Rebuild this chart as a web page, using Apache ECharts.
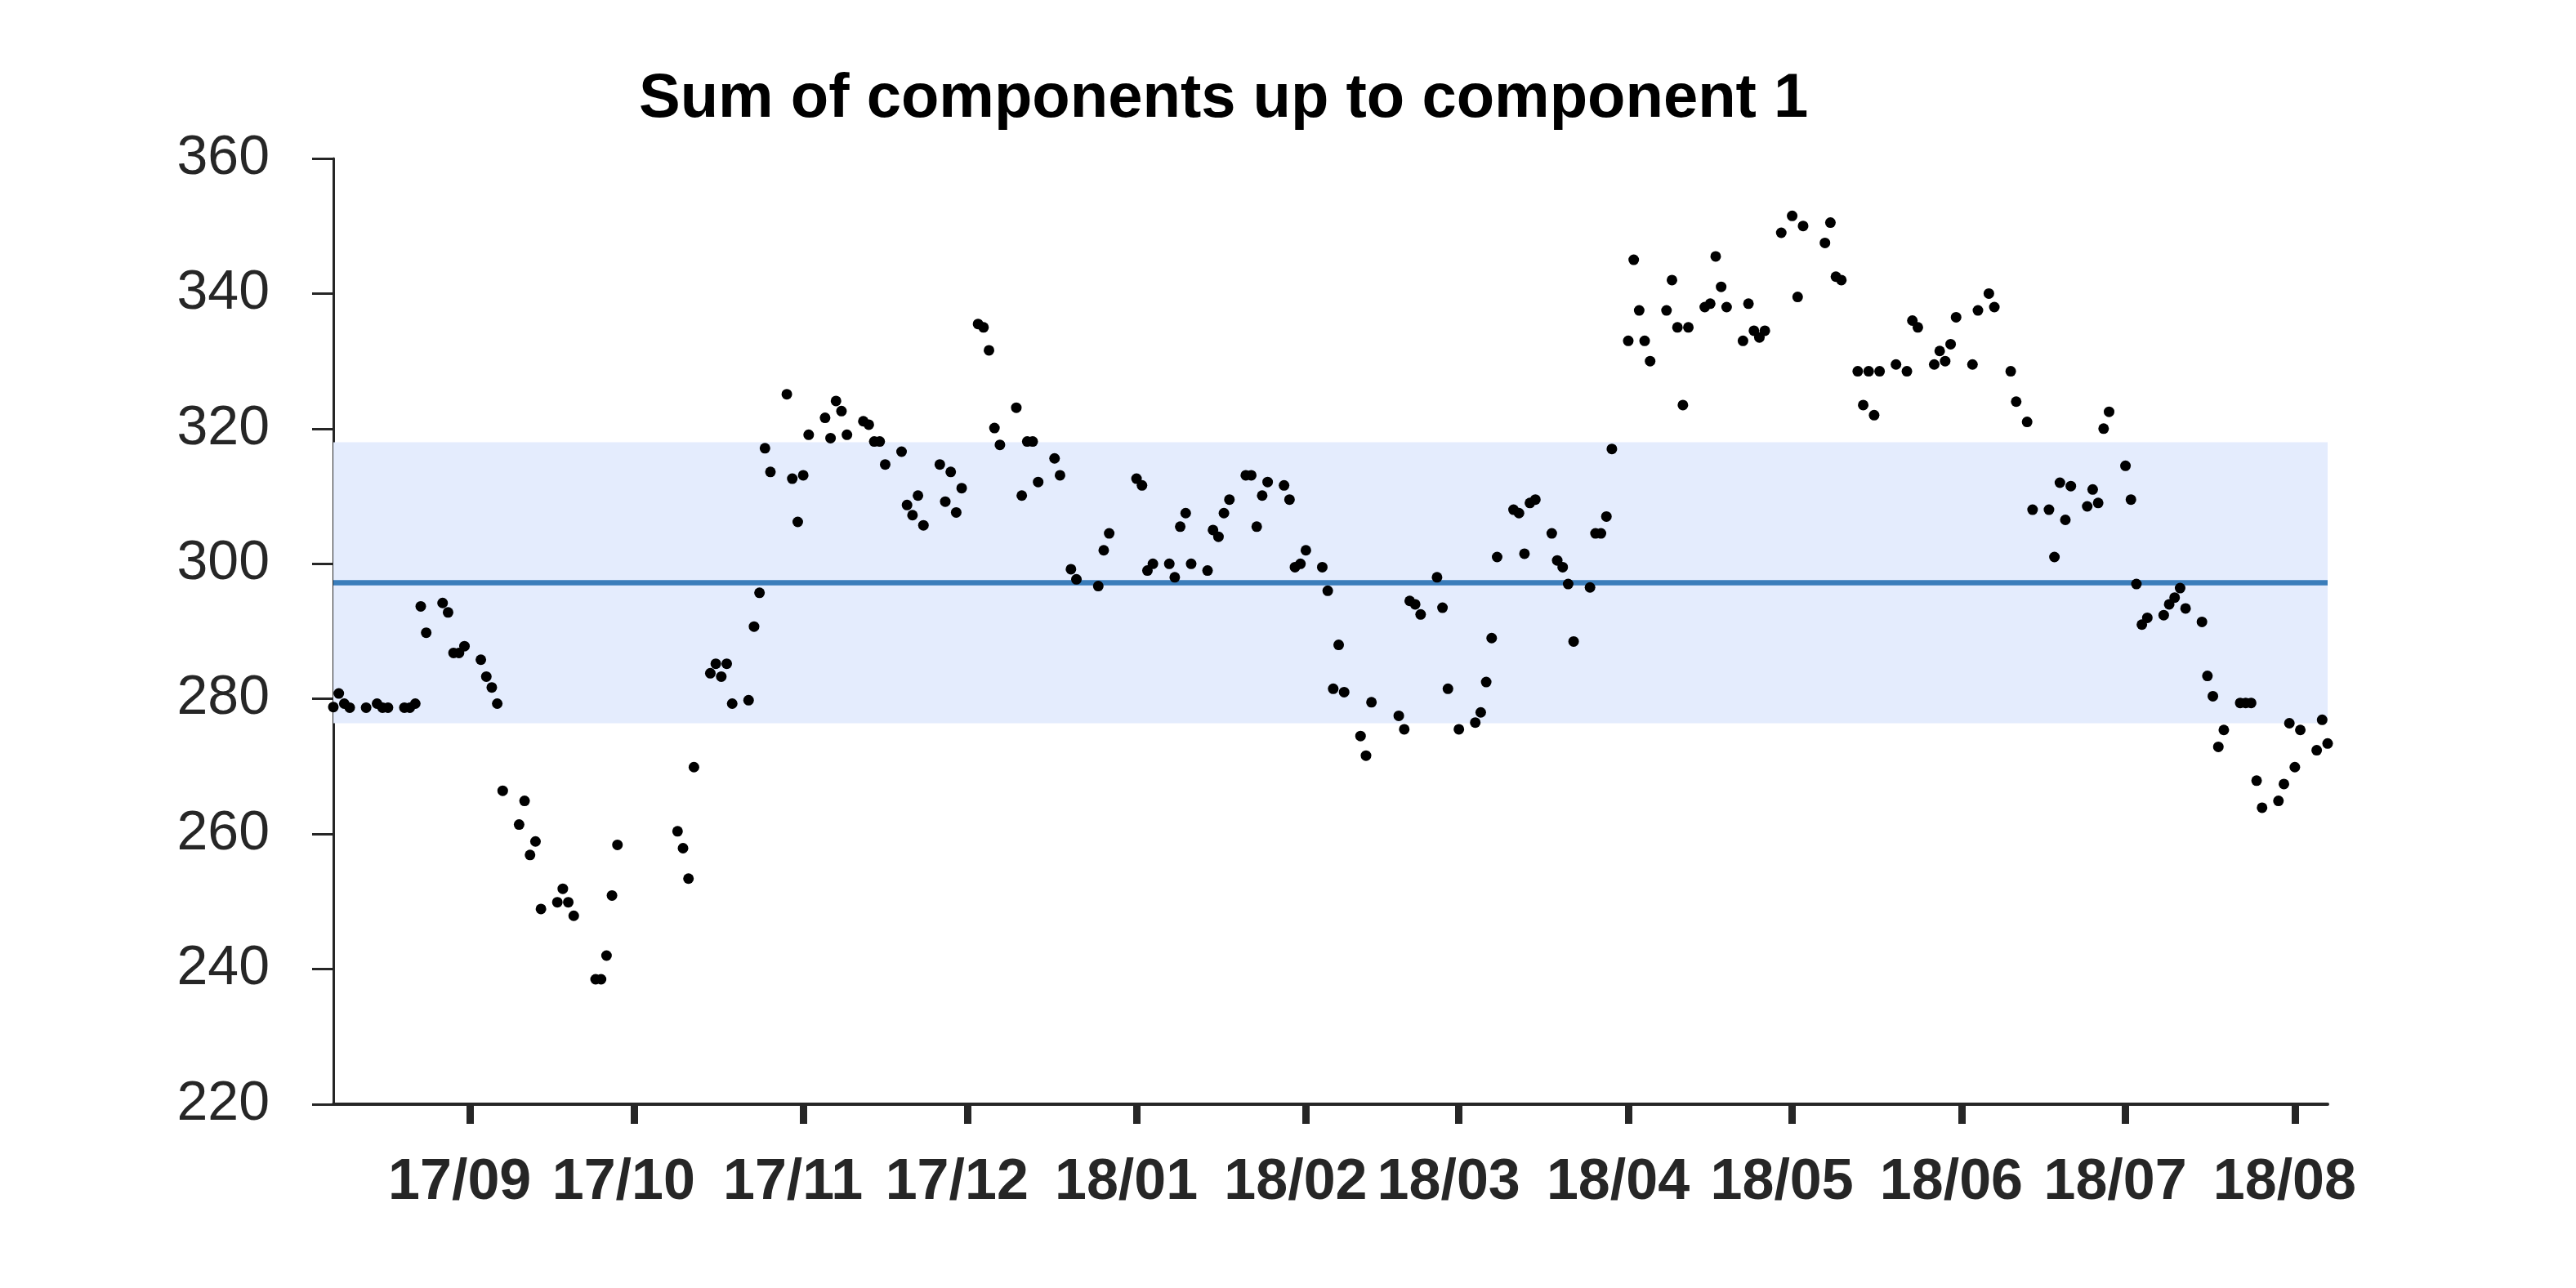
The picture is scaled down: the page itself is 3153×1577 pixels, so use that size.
<!DOCTYPE html>
<html>
<head>
<meta charset="utf-8">
<script src="https://cdn.jsdelivr.net/npm/echarts@6/dist/echarts.min.js"></script>
<style>
  html, body { margin: 0; padding: 0; background: #ffffff; }
  #chart { width: 3153px; height: 1577px; }
</style>
</head>
<body>
<div id="chart"></div>
<script>
// ---------------- DATA ----------------
const titleText = 'Sum of components up to component 1';

const dates = [
  '2017-08-07','2017-08-08','2017-08-09','2017-08-10','2017-08-13','2017-08-15','2017-08-16','2017-08-17',
  '2017-08-20','2017-08-21','2017-08-22','2017-08-23','2017-08-24','2017-08-27','2017-08-28','2017-08-29',
  '2017-08-30','2017-08-31','2017-09-03','2017-09-04','2017-09-05','2017-09-06','2017-09-07','2017-09-10',
  '2017-09-11','2017-09-12','2017-09-13','2017-09-14','2017-09-17','2017-09-18','2017-09-19','2017-09-20',
  '2017-09-24','2017-09-25','2017-09-26','2017-09-27','2017-09-28','2017-10-09','2017-10-10','2017-10-11',
  '2017-10-12','2017-10-15','2017-10-16','2017-10-17','2017-10-18','2017-10-19','2017-10-22','2017-10-23',
  '2017-10-24','2017-10-25','2017-10-26','2017-10-29','2017-10-30','2017-10-31','2017-11-01','2017-11-02',
  '2017-11-05','2017-11-06','2017-11-07','2017-11-08','2017-11-09','2017-11-12','2017-11-13','2017-11-14',
  '2017-11-15','2017-11-16','2017-11-19','2017-11-20','2017-11-21','2017-11-22','2017-11-23','2017-11-26',
  '2017-11-27','2017-11-28','2017-11-29','2017-11-30','2017-12-03','2017-12-04','2017-12-05','2017-12-06',
  '2017-12-07','2017-12-10','2017-12-11','2017-12-12','2017-12-13','2017-12-14','2017-12-17','2017-12-18',
  '2017-12-20','2017-12-21','2017-12-25','2017-12-26','2017-12-27','2018-01-01','2018-01-02','2018-01-03',
  '2018-01-04','2018-01-07','2018-01-08','2018-01-09','2018-01-10','2018-01-11','2018-01-14','2018-01-15',
  '2018-01-16','2018-01-17','2018-01-18','2018-01-21','2018-01-22','2018-01-23','2018-01-24','2018-01-25',
  '2018-01-28','2018-01-29','2018-01-30','2018-01-31','2018-02-01','2018-02-04','2018-02-05','2018-02-06',
  '2018-02-07','2018-02-08','2018-02-11','2018-02-12','2018-02-13','2018-02-18','2018-02-19','2018-02-20',
  '2018-02-21','2018-02-22','2018-02-25','2018-02-26','2018-02-27','2018-03-01','2018-03-04','2018-03-05',
  '2018-03-06','2018-03-07','2018-03-08','2018-03-11','2018-03-12','2018-03-13','2018-03-14','2018-03-15',
  '2018-03-18','2018-03-19','2018-03-20','2018-03-21','2018-03-22','2018-03-25','2018-03-26','2018-03-27',
  '2018-03-28','2018-03-29','2018-04-01','2018-04-02','2018-04-03','2018-04-04','2018-04-05','2018-04-08',
  '2018-04-09','2018-04-10','2018-04-11','2018-04-12','2018-04-15','2018-04-16','2018-04-17','2018-04-18',
  '2018-04-19','2018-04-22','2018-04-23','2018-04-24','2018-04-25','2018-04-26','2018-04-29','2018-05-01',
  '2018-05-02','2018-05-03','2018-05-07','2018-05-08','2018-05-09','2018-05-10','2018-05-13','2018-05-14',
  '2018-05-15','2018-05-16','2018-05-17','2018-05-20','2018-05-22','2018-05-23','2018-05-24','2018-05-27',
  '2018-05-28','2018-05-29','2018-05-30','2018-05-31','2018-06-03','2018-06-04','2018-06-06','2018-06-07',
  '2018-06-10','2018-06-11','2018-06-13','2018-06-14','2018-06-17','2018-06-18','2018-06-19','2018-06-20',
  '2018-06-21','2018-06-24','2018-06-25','2018-06-26','2018-06-27','2018-06-28','2018-07-01','2018-07-02',
  '2018-07-03','2018-07-04','2018-07-05','2018-07-08','2018-07-09','2018-07-10','2018-07-11','2018-07-12',
  '2018-07-15','2018-07-16','2018-07-17','2018-07-18','2018-07-19','2018-07-22','2018-07-23','2018-07-24',
  '2018-07-25','2018-07-26','2018-07-29','2018-07-30','2018-07-31','2018-08-01','2018-08-02','2018-08-05',
  '2018-08-06','2018-08-07'
];

const values = [
  278.8,280.8,279.3,278.7,278.7,279.3,278.7,278.7,
  278.7,278.7,279.3,293.7,289.8,294.2,292.8,286.8,
  286.8,287.8,285.8,283.3,281.7,279.3,266.4,261.4,
  264.9,256.9,258.9,248.9,249.9,251.9,249.9,247.9,
  238.5,238.5,242.0,250.9,258.4,260.4,257.9,253.4,
  269.9,283.8,285.2,283.3,285.2,279.3,279.8,290.7,
  295.7,317.1,313.6,325.1,312.6,306.2,313.1,319.1,
  321.6,318.6,324.1,322.6,319.1,321.1,320.6,318.1,
  318.1,314.7,316.6,308.7,307.2,310.1,305.7,314.7,
  309.2,313.6,307.6,311.2,335.5,335.0,331.6,320.1,
  317.6,323.1,310.1,318.1,318.1,312.1,315.6,313.1,
  299.2,297.7,296.7,302.0,304.5,312.6,311.6,299.0,
  300.0,300.0,298.0,305.5,307.5,300.0,299.0,305.0,
  304.0,307.5,309.5,313.1,313.1,305.5,310.1,312.1,
  311.6,309.5,299.5,300.0,302.0,299.5,296.0,281.5,
  288.0,281.0,274.5,271.6,279.5,277.5,275.5,294.5,
  294.0,292.5,298.0,293.5,281.5,275.5,276.5,278.0,
  282.5,289.0,301.0,308.0,307.5,301.5,309.0,309.5,
  304.5,300.5,299.5,297.0,288.5,296.5,304.5,304.5,
  307.0,317.0,333.0,345.0,337.5,333.0,330.0,337.5,
  342.0,335.0,323.5,335.0,338.0,338.5,345.5,341.0,
  338.0,333.0,338.5,334.5,333.5,334.5,349.0,351.5,
  339.5,350.0,347.5,350.5,342.5,342.0,328.5,323.5,
  328.5,322.0,328.5,329.5,328.5,336.0,335.0,329.5,
  331.5,330.0,332.5,336.5,329.5,337.5,340.0,338.0,
  328.5,324.0,321.0,308.0,308.0,301.0,312.0,306.5,
  311.5,308.5,311.0,309.0,320.0,322.5,314.5,309.5,
  297.0,291.0,292.0,292.4,294.0,295.0,296.4,293.4,
  291.4,283.4,280.4,272.9,275.4,279.4,279.4,279.4,
  267.9,263.9,264.9,267.4,276.4,269.9,275.4,272.4,
  276.9,273.4
];

const meanLevel = 297.2;
const bandLower = 276.4;
const bandUpper = 318.0;

const xRange = ['2017-08-07', '2018-08-07'];
const monthTicks = ['2017-09-01','2017-10-01','2017-11-01','2017-12-01','2018-01-01','2018-02-01',
                    '2018-03-01','2018-04-01','2018-05-01','2018-06-01','2018-07-01','2018-08-01'];
const yMin = 220, yMax = 360, yStep = 20;

// ---------------- CHART ----------------
function toTs(s) {
  const p = s.split('-').map(Number);
  return Date.UTC(p[0], p[1] - 1, p[2]);
}
function monthLabel(v) {
  const d = new Date(v);
  return String(d.getUTCFullYear()).slice(2) + '/' + String(d.getUTCMonth() + 1).padStart(2, '0');
}

const points = dates.map((d, i) => [toTs(d), values[i]]);
const tickTs = monthTicks.map(toTs);

const FONT = '"Liberation Sans", Arial, Helvetica, sans-serif';
const AXIS_COLOR = '#262626';

const chart = echarts.init(document.getElementById('chart'), null, { renderer: 'canvas' });
chart.setOption({
  animation: false,
  backgroundColor: '#ffffff',
  title: {
    text: titleText,
    left: 782,
    top: 84,
    padding: 0,
    textStyle: { fontFamily: FONT, fontSize: 76, fontWeight: 'bold', color: '#000000' }
  },
  grid: {
    left: 408, right: 304, top: 194, bottom: 225,
    containLabel: false,
    outerBoundsMode: 'none'
  },
  xAxis: {
    type: 'value',
    min: toTs(xRange[0]),
    max: toTs(xRange[1]),
    scale: true,
    splitLine: { show: false },
    axisLine: { show: true, onZero: false, lineStyle: { color: AXIS_COLOR, width: 4 } },
    axisTick: {
      show: true, inside: false, length: 24,
      customValues: tickTs,
      lineStyle: { color: AXIS_COLOR, width: 9 }
    },
    axisLabel: {
      show: true,
      customValues: tickTs,
      formatter: monthLabel,
      margin: 62,
      padding: [0, 25, 0, 0],
      fontFamily: FONT, fontSize: 70, fontWeight: 'bold', color: AXIS_COLOR,
      hideOverlap: false
    }
  },
  yAxis: {
    type: 'value',
    min: yMin, max: yMax, interval: yStep,
    splitLine: { show: false },
    axisLine: { show: true, lineStyle: { color: AXIS_COLOR, width: 3 } },
    axisTick: { show: true, inside: false, length: 26, lineStyle: { color: AXIS_COLOR, width: 3 } },
    axisLabel: { margin: 78, fontFamily: FONT, fontSize: 68, color: AXIS_COLOR }
  },
  series: [
    {
      type: 'scatter',
      data: points,
      symbol: 'circle',
      symbolSize: 13,
      itemStyle: { color: '#000000', opacity: 1 },
      z: 5,
      markArea: {
        silent: true,
        itemStyle: { color: '#e4ecfd' },
        data: [[{ yAxis: bandLower }, { yAxis: bandUpper }]]
      },
      markLine: {
        silent: true,
        symbol: ['none', 'none'],
        label: { show: false },
        lineStyle: { color: '#3a7dba', width: 6.5, type: 'solid' },
        data: [{ yAxis: meanLevel }]
      }
    }
  ]
});
</script>
</body>
</html>
